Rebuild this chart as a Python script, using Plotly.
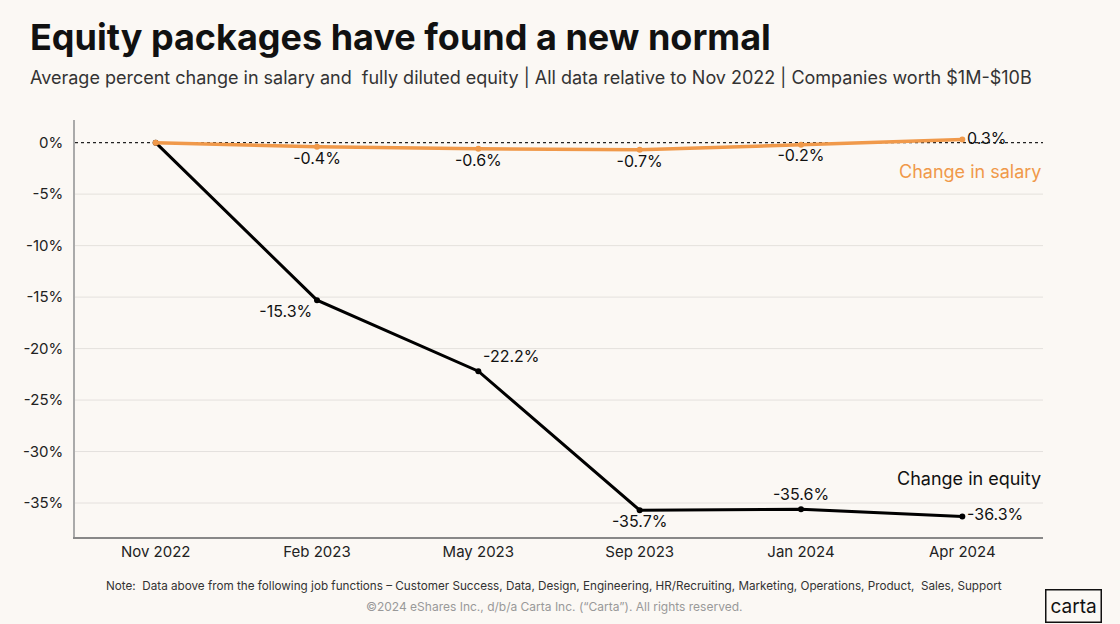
import plotly.graph_objects as go

months = ["Nov 2022", "Feb 2023", "May 2023", "Sep 2023", "Jan 2024", "Apr 2024"]
salary = [0.0, -0.4, -0.6, -0.7, -0.2, 0.3]
equity = [0.0, -15.3, -22.2, -35.7, -35.6, -36.3]
salary_pos = ["middle center", "bottom center", "bottom center", "bottom center", "bottom center", "middle right"]
equity_pos = ["middle center", "bottom left", "top right", "bottom center", "top center", "middle right"]
yticks = [0, -5, -10, -15, -20, -25, -30, -35]
grid_ticks = [-5, -10, -15, -20, -25, -30, -35]

FONT = "Inter, Lato, sans-serif"
BG = "#FBF8F4"
ORANGE = "#F0994A"

xs = list(range(len(months)))

def lbl(v, i):
    if i == 0:
        return ""
    return f"{v:.1f}%"

fig = go.Figure()
for g in grid_ticks:
    fig.add_shape(type="line", xref="paper", x0=0, x1=1, yref="y", y0=g, y1=g,
                  line=dict(color="#E4E1DD", width=1), layer="below")
fig.add_shape(type="line", xref="paper", x0=0, x1=1, yref="y", y0=0, y1=0,
              line=dict(color="#222", width=1.2, dash="dot"), layer="below")
fig.add_trace(go.Scatter(
    x=xs, y=equity, mode="lines+markers+text",
    line=dict(color="black", width=3), marker=dict(size=6, color="black"),
    text=[lbl(v, i) for i, v in enumerate(equity)], textposition=equity_pos,
    textfont=dict(family=FONT, size=16, color="#111"), cliponaxis=False, showlegend=False))
fig.add_trace(go.Scatter(
    x=xs, y=salary, mode="lines+markers+text",
    line=dict(color=ORANGE, width=3.5), marker=dict(size=6, color=ORANGE),
    text=[lbl(v, i) for i, v in enumerate(salary)], textposition=salary_pos,
    textfont=dict(family=FONT, size=16, color="#111"), cliponaxis=False, showlegend=False))

fig.update_layout(
    width=1120, height=624, paper_bgcolor=BG, plot_bgcolor=BG,
    margin=dict(l=75, r=77, t=120, b=87),
    font=dict(family=FONT, color="#222"),
    xaxis=dict(range=[-0.5, 5.5], tickvals=xs, ticktext=months, showgrid=False, zeroline=False,
               showline=True, linecolor="#888", linewidth=1.5, ticks="",
               tickfont=dict(size=15, color="#222")),
    yaxis=dict(range=[-38.3, 2.2], tickvals=yticks, ticktext=[f"{t}%" for t in yticks],
               showgrid=False, zeroline=False,
               showline=True, linecolor="#AAA", linewidth=1.5, ticks="", ticklabelstandoff=7,
               tickfont=dict(size=15, color="#222")),
    annotations=[
        dict(xref="paper", yref="paper", x=-0.049, y=1.0, yshift=83, xanchor="left", yanchor="middle",
             text="<b>Equity packages have found a new normal</b>", showarrow=False,
             font=dict(family=FONT, size=36, color="#111")),
        dict(xref="paper", yref="paper", x=-0.049, y=1.0, yshift=43, xanchor="left", yanchor="middle",
             text="Average percent change in salary and  fully diluted equity | All data relative to Nov 2022 | Companies worth $1M-$10B",
             showarrow=False, font=dict(family=FONT, size=18, color="#333")),
        dict(xref="paper", yref="y", x=1.0, y=-2.8, xanchor="right", yanchor="middle",
             text="Change in salary", showarrow=False, font=dict(family=FONT, size=18, color=ORANGE)),
        dict(xref="paper", yref="y", x=1.0, y=-32.6, xanchor="right", yanchor="middle",
             text="Change in equity", showarrow=False, font=dict(family=FONT, size=18, color="#111")),
        dict(xref="paper", yref="paper", x=0.495, y=0, yshift=-49, xanchor="center", yanchor="middle",
             text="Note:  Data above from the following job functions – Customer Success, Data, Design, Engineering, HR/Recruiting, Marketing, Operations, Product,  Sales, Support",
             showarrow=False, font=dict(family=FONT, size=11.7, color="#333")),
        dict(xref="paper", yref="paper", x=0.495, y=0, yshift=-69, xanchor="center", yanchor="middle",
             text="©2024 eShares Inc., d/b/a Carta Inc. (“Carta”). All rights reserved.",
             showarrow=False, font=dict(family=FONT, size=12, color="#999")),
        dict(xref="paper", yref="paper", x=1.0, y=0, xshift=2, yshift=-69, xanchor="left", yanchor="middle",
             text="carta", showarrow=False, bordercolor="#111", borderwidth=1.5, borderpad=4,
             font=dict(family=FONT, size=19, color="#111")),
    ],
)

fig.write_html("out.html")
